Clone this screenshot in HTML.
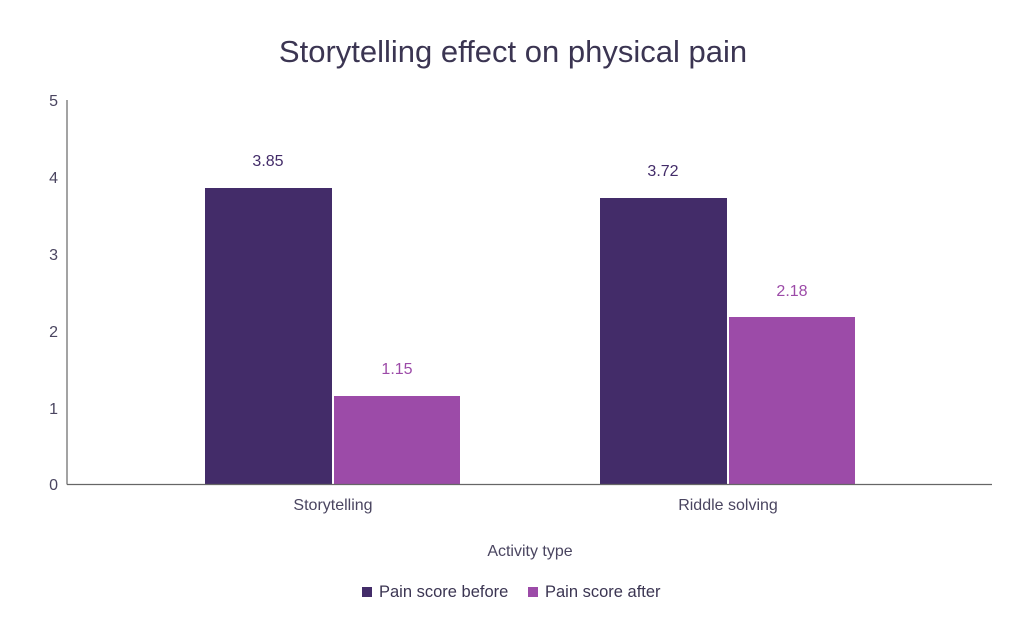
<!DOCTYPE html>
<html><head><meta charset="utf-8"><style>
html,body{margin:0;padding:0;background:#fff;}
svg{display:block;font-family:"Liberation Sans",sans-serif;}
</style></head><body>
<svg width="1024" height="634" viewBox="0 0 1024 634">
<text x="513" y="62" text-anchor="middle" font-size="31" fill="#3b3552">Storytelling effect on physical pain</text>
<g font-size="16" fill="#4a4560" text-anchor="end">
<text x="58" y="106">5</text>
<text x="58" y="183">4</text>
<text x="58" y="260">3</text>
<text x="58" y="337">2</text>
<text x="58" y="414">1</text>
<text x="58" y="490">0</text>
</g>
<rect x="205" y="188" width="127" height="296" fill="#432c69"/>
<rect x="334" y="396" width="126" height="88" fill="#9c4ba8"/>
<rect x="600" y="198" width="127" height="286" fill="#432c69"/>
<rect x="729" y="317" width="126" height="167" fill="#9c4ba8"/>
<line x1="67" y1="100" x2="67" y2="484.5" stroke="#666" stroke-width="1.2"/>
<line x1="67" y1="484.5" x2="992" y2="484.5" stroke="#666" stroke-width="1.2"/>
<g font-size="16" text-anchor="middle">
<text x="268" y="166" fill="#432c69">3.85</text>
<text x="397" y="374" fill="#9c4ba8">1.15</text>
<text x="663" y="176" fill="#432c69">3.72</text>
<text x="792" y="296" fill="#9c4ba8">2.18</text>
</g>
<g font-size="16" fill="#4a4560" text-anchor="middle">
<text x="333" y="510">Storytelling</text>
<text x="728" y="510">Riddle solving</text>
<text x="530" y="556">Activity type</text>
</g>
<rect x="362" y="587" width="10" height="10" fill="#432c69"/>
<text x="379" y="597" font-size="16.5" fill="#3b3552">Pain score before</text>
<rect x="528" y="587" width="10" height="10" fill="#9c4ba8"/>
<text x="545" y="597" font-size="16.5" fill="#3b3552">Pain score after</text>
</svg>
</body></html>
